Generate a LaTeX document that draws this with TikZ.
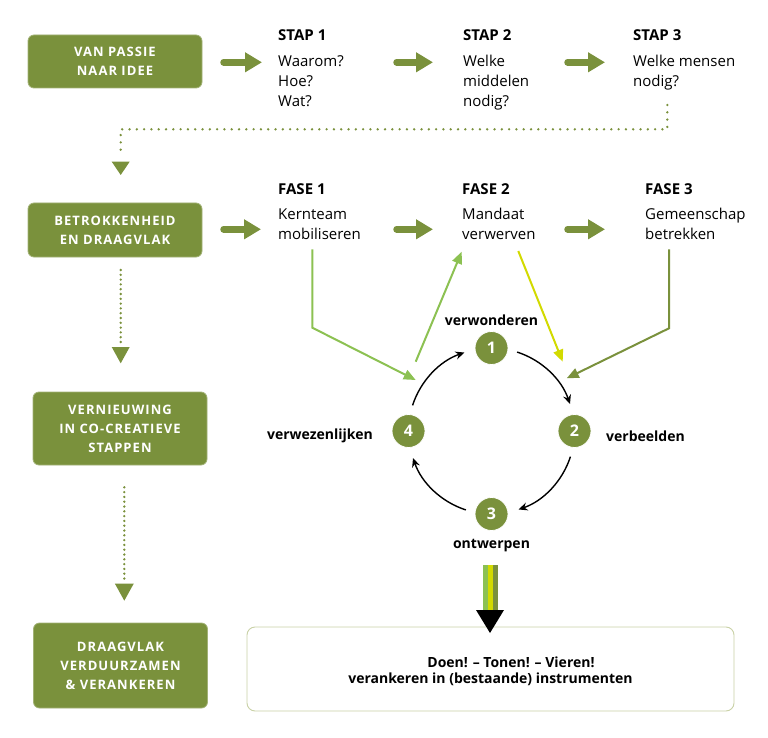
\documentclass[tikz,border=0pt]{standalone}
\usepackage{fontspec}
\setmainfont{Open Sans}
\usetikzlibrary{arrows.meta,calc}
\definecolor{oliv}{HTML}{7A913C}
\definecolor{lgreen}{HTML}{8CC152}
\definecolor{ylw}{HTML}{D2DA00}
\definecolor{boxedge}{HTML}{C9D1A6}
\tikzset{
  gbox/.style={rounded corners=6pt, fill=oliv, draw=oliv!70!white, line width=0.8pt,
    text=white, align=center, inner sep=0pt, minimum width=174pt,
    font=\fontsize{13}{19}\selectfont\bfseries\addfontfeature{LetterSpace=8}},
  ttl/.style={anchor=base west, inner sep=0pt, font=\fontsize{15}{18}\selectfont\bfseries},
  bdy/.style={anchor=base west, inner sep=0pt, font=\fontsize{15}{18}\selectfont},
  lbl/.style={inner sep=0pt, font=\fontsize{14}{17}\selectfont\bfseries},
  numc/.style={circle, fill=oliv, draw=white, line width=0.8pt, minimum size=33pt, inner sep=0pt,
    text=white, font=\fontsize{16}{18}\selectfont\bfseries},
  fatarrow/.style={oliv, line width=6.5pt, line cap=round, -{Triangle[length=17pt,width=19pt]}},
  dotline/.style={oliv, line width=2.6pt, line cap=round, dash pattern=on 0pt off #1},
  cyc/.style={black, line width=1.4pt, -{Stealth[length=9pt,width=8pt]}},
  conn/.style={line width=2pt, -{Triangle[length=12pt,width=10pt]}},
}
\begin{document}
\begin{tikzpicture}[x=1pt,y=-1pt]
\useasboundingbox (0,0) rectangle (768,738);

% left boxes
\node[gbox, minimum height=53pt] (b1) at (115,61.5) {VAN PASSIE\\NAAR IDEE};
\node[gbox, minimum height=54pt] (b2) at (115,230) {BETROKKENHEID\\EN DRAAGVLAK};
\node[gbox, minimum height=73pt] (b3) at (120,428.5) {VERNIEUWING\\IN CO-CREATIEVE\\STAPPEN};
\node[gbox, minimum height=85pt] (b4) at (120.5,665.5) {DRAAGVLAK\\VERDUURZAMEN\\\& VERANKEREN};

% row 1 texts
\node[ttl] (s1t) at (278,40.7) {STAP 1};
\node[bdy] (s1a) at (278,66.7) {Waarom?};
\node[bdy] (s1b) at (278,86.5) {Hoe?};
\node[bdy] (s1c) at (278,106.3) {Wat?};
\node[ttl] (s2t) at (463,40.7) {STAP 2};
\node[bdy] (s2a) at (463,66.7) {Welke};
\node[bdy] (s2b) at (463,86.5) {middelen};
\node[bdy] (s2c) at (463,106.3) {nodig?};
\node[ttl] (s3t) at (633,40.7) {STAP 3};
\node[bdy] (s3a) at (633,66.7) {Welke mensen};
\node[bdy] (s3b) at (633,86.5) {nodig?};

% row 2 texts
\node[ttl] (f1t) at (278,195) {FASE 1};
\node[bdy] (f1a) at (278,219.3) {Kernteam};
\node[bdy] (f1b) at (278,239.3) {mobiliseren};
\node[ttl] (f2t) at (462,195) {FASE 2};
\node[bdy] (f2a) at (462,219.3) {Mandaat};
\node[bdy] (f2b) at (462,239.3) {verwerven};
\node[ttl] (f3t) at (645,195) {FASE 3};
\node[bdy] (f3a) at (645,219.3) {Gemeenschap};
\node[bdy] (f3b) at (645,239.3) {betrekken};

% fat arrows row 1
\coordinate (a1s) at (223.5,62.3); \coordinate (a1e) at (262,62.3);
\coordinate (a2s) at (396.5,62.3); \coordinate (a2e) at (433,62.3);
\coordinate (a3s) at (567.5,62.3); \coordinate (a3e) at (605,62.3);
\draw[fatarrow] (a1s) -- (a1e);
\draw[fatarrow] (a2s) -- (a2e);
\draw[fatarrow] (a3s) -- (a3e);
% fat arrows row 2
\coordinate (r1s) at (223.5,229.3); \coordinate (r1e) at (261,229.3);
\coordinate (r2s) at (396.5,229.3); \coordinate (r2e) at (433,229.3);
\coordinate (r3s) at (567.5,229.3); \coordinate (r3e) at (605,229.3);
\draw[fatarrow] (r1s) -- (r1e);
\draw[fatarrow] (r2s) -- (r2e);
\draw[fatarrow] (r3s) -- (r3e);

% dotted connectors
\coordinate (d1a) at (667.3,105); \coordinate (d1b) at (667.3,129.3);
\coordinate (d1c) at (120.7,129.3); \coordinate (d1d) at (120.7,154);
\draw[dotline=7.3pt] (d1a) -- (d1b) -- (d1c) -- (d1d);
\fill[oliv] (111.7,161.7) -- (129.7,161.7) -- (120.7,175) -- cycle;

\coordinate (d2a) at (120.7,270); \coordinate (d2b) at (120.7,342);
\draw[dotline=4.8pt] (d2a) -- (d2b);
\fill[oliv] (111.7,347) -- (129.7,347) -- (120.7,363.3) -- cycle;

\coordinate (d3a) at (124.3,487.3); \coordinate (d3b) at (124.3,579);
\draw[dotline=4.8pt] (d3a) -- (d3b);
\fill[oliv] (114.8,583.5) -- (133.8,583.5) -- (124.3,600.7) -- cycle;

% cycle
\coordinate (ctr) at (491.5,431);
\node[numc] (n1) at (491.5,348) {1};
\node[numc] (n2) at (574.5,431) {2};
\node[numc] (n3) at (491.5,514) {3};
\node[numc] (n4) at (408.5,431) {4};
\draw[cyc] ($(ctr)+(-72:83)$) arc[start angle=-72, end angle=-19, radius=83];
\draw[cyc] ($(ctr)+(18:83)$) arc[start angle=18, end angle=71, radius=83];
\draw[cyc] ($(ctr)+(108:83)$) arc[start angle=108, end angle=161, radius=83];
\draw[cyc] ($(ctr)+(-162:83)$) arc[start angle=-162, end angle=-109, radius=83];

\node[lbl, anchor=base] (l1) at (491.5,325) {verwonderen};
\node[lbl, anchor=base west] (l2) at (606,441) {verbeelden};
\node[lbl, anchor=base] (l3) at (491.5,548) {ontwerpen};
\node[lbl, anchor=base east] (l4) at (373,439) {verwezenlijken};

% coloured connectors
\coordinate (g1s) at (312.3,249.3); \coordinate (g1m) at (312.3,327.7); \coordinate (g1e) at (415.7,380);
\draw[conn, lgreen] (g1s) -- (g1m) -- (g1e);
\coordinate (g2s) at (415.7,361.7); \coordinate (g2e) at (461.7,251.7);
\draw[conn, lgreen] (g2s) -- (g2e);
\coordinate (y1s) at (518.3,251); \coordinate (y1e) at (562.7,361.7);
\draw[conn, ylw] (y1s) -- (y1e);
\coordinate (o1s) at (669,249.3); \coordinate (o1m) at (669,328.3); \coordinate (o1e) at (566.7,378.3);
\draw[conn, oliv] (o1s) -- (o1m) -- (o1e);

% bottom box
\node[draw=boxedge, line width=0.9pt, rounded corners=8pt, fill=white, minimum width=487pt, minimum height=84pt, inner sep=0pt] (bb) at (490.5,669) {};
\node[lbl, anchor=base] (t1) at (511,667) {Doen! – Tonen! – Vieren!};
\node[lbl, anchor=base] (t2) at (490.5,683.5) {verankeren in (bestaande) instrumenten};

% big striped arrow
\fill[lgreen] (482.5,565) rectangle (487.5,611);
\fill[ylw] (487.5,565) rectangle (492.5,611);
\fill[oliv] (492.5,565) rectangle (497.5,611);
\fill[black] (476,610) -- (504,610) -- (490,633) -- cycle;
\end{tikzpicture}
\end{document}
